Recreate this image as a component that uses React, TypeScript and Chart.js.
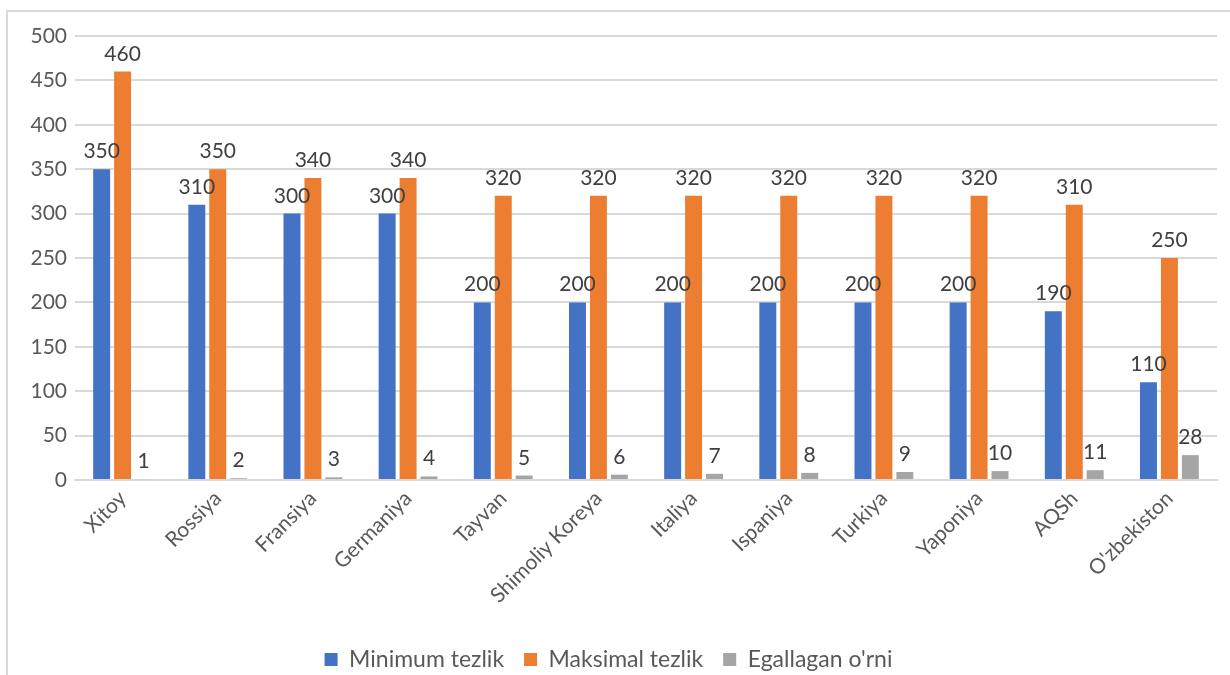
import React, { useEffect, useRef } from "react";
import { Chart, registerables } from "chart.js";

Chart.register(...registerables);

const categories = [
  "Xitoy",
  "Rossiya",
  "Fransiya",
  "Germaniya",
  "Tayvan",
  "Shimoliy Koreya",
  "Italiya",
  "Ispaniya",
  "Turkiya",
  "Yaponiya",
  "AQSh",
  "O'zbekiston",
];
const minSpeed = [350, 310, 300, 300, 200, 200, 200, 200, 200, 200, 190, 110];
const maxSpeed = [460, 350, 340, 340, 320, 320, 320, 320, 320, 320, 310, 250];
const rank = [1, 2, 3, 4, 5, 6, 7, 8, 9, 10, 11, 28];
const seriesNames = ["Minimum tezlik", "Maksimal tezlik", "Egallagan o'rni"];
const seriesColors = ["#4472C4", "#ED7D31", "#A5A5A5"];

const FONT = "Lato, 'Open Sans', sans-serif";

const dataLabels = {
  id: "dataLabels",
  afterDatasetsDraw(chart: any) {
    const ctx = chart.ctx;
    ctx.save();
    ctx.font = `21px ${FONT}`;
    ctx.fillStyle = "#404040";
    ctx.textAlign = "center";
    ctx.textBaseline = "alphabetic";
    chart.data.datasets.forEach((ds: any, i: number) => {
      const meta = chart.getDatasetMeta(i);
      meta.data.forEach((el: any, j: number) => {
        ctx.fillText(String(ds.data[j]), el.x, el.y - 11);
      });
    });
    ctx.restore();
  },
};

export default function App() {
  const ref = useRef<HTMLCanvasElement>(null);
  useEffect(() => {
    if (!ref.current) return;
    const chart = new Chart(ref.current, {
      type: "bar",
      data: {
        labels: categories,
        datasets: [minSpeed, maxSpeed, rank].map((d, i) => ({
          label: seriesNames[i],
          data: d,
          backgroundColor: seriesColors[i],
          borderWidth: 0,
          categoryPercentage: 0.66,
          barPercentage: 0.81,
        })),
      },
      options: {
        animation: false,
        responsive: false,
        maintainAspectRatio: false,
        layout: { padding: { top: 36, right: 13, bottom: -6, left: 0 } },
        plugins: {
          tooltip: { enabled: false },
          legend: {
            position: "bottom",
            labels: {
              boxWidth: 13,
              boxHeight: 13,
              font: { family: FONT, size: 23 },
              color: "#595959",
              padding: 20,
            },
          },
        },
        scales: {
          x: {
            grid: { display: false, drawTicks: false },
            border: { display: true, color: "#d9d9d9", width: 2 },
            ticks: {
              font: { family: FONT, size: 21 },
              color: "#595959",
              maxRotation: 45,
              minRotation: 45,
              padding: 6,
              autoSkip: false,
            },
            afterFit: (s: any) => {
              s.height = 148;
            },
          },
          y: {
            min: 0,
            max: 500,
            grid: { color: "#d9d9d9", lineWidth: 2, drawTicks: false },
            border: { display: false },
            ticks: {
              stepSize: 50,
              font: { family: FONT, size: 21 },
              color: "#595959",
              padding: 8,
            },
            afterFit: (s: any) => {
              s.width = 75;
            },
          },
        },
      },
      plugins: [dataLabels],
    });
    return () => chart.destroy();
  }, []);

  return (
    <div
      style={{
        position: "fixed",
        left: 0,
        top: 0,
        width: 1230,
        height: 675,
        overflow: "hidden",
        background: "#fff",
      }}
    >
      <div
        style={{
          position: "absolute",
          left: 6,
          top: 10,
          width: 1260,
          height: 700,
          border: "2px solid #d9d9d9",
        }}
      />
      <canvas
        ref={ref}
        width={1230}
        height={675}
        style={{ position: "absolute", left: 0, top: 0 }}
      />
    </div>
  );
}
